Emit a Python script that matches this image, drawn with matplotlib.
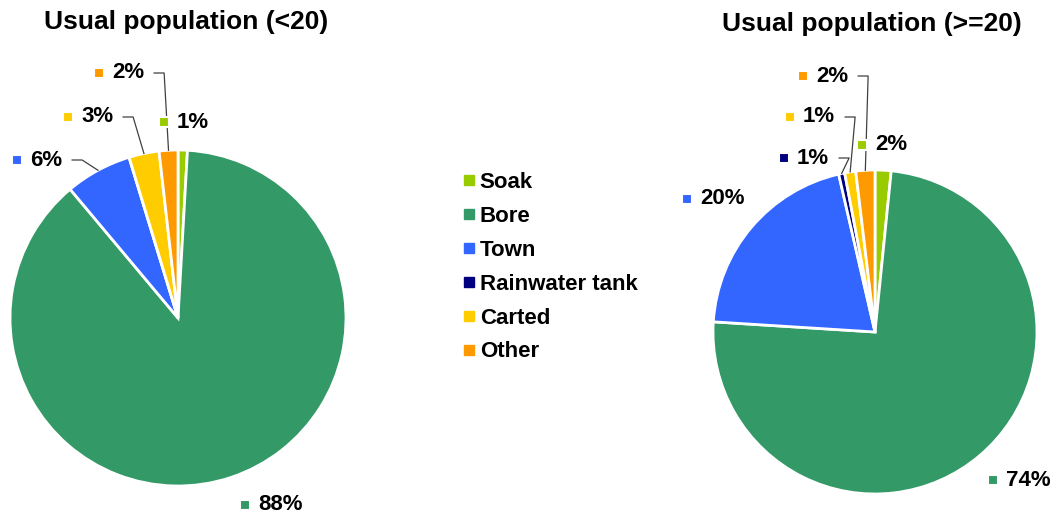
import numpy as np
import matplotlib
matplotlib.use("Agg")
import matplotlib.pyplot as plt
from matplotlib.lines import Line2D

categories = ["Soak", "Bore", "Town", "Rainwater tank", "Carted", "Other"]
under20 = [0.9, 88.0, 6.4, 0.0, 2.9, 1.8]
over20 = [1.6, 74.4, 20.4, 0.6, 1.1, 1.9]
titles = ["Usual population (<20)", "Usual population (>=20)"]
colors = ["#99CC00", "#339966", "#3366FF", "#000080", "#FFCC00", "#FF9900"]

# layout, in pixels (y down)
W, H = 1056, 515
centers = [(178, 318), (875, 332)]
radii = [168, 162]
title_pos = [(186, 22), (872, 24)]
# (marker x, marker y, leader line) per category
label_pos = [
    [(164, 122, False), (245, 505, False), (17, 160, True), None, (68, 117, True), (99, 73, True)],
    [(862, 145, False), (993, 480, False), (687, 199, False), (784, 158, True), (790, 117, True), (803, 76, True)],
]

plt.rcParams["font.family"] = ["Liberation Sans", "DejaVu Sans"]

fig = plt.figure(figsize=(10.56, 5.15), dpi=100)
ax = fig.add_axes([0, 0, 1, 1])

leaders = []
for i, vals in enumerate([under20, over20]):
    cx, cy = centers[i]
    r = radii[i]
    wedges, _ = ax.pie(vals, colors=colors, center=(cx, cy), radius=r,
                       startangle=-90, counterclock=True,
                       wedgeprops=dict(edgecolor="white", linewidth=2))
    ax.text(title_pos[i][0], title_pos[i][1], titles[i], ha="center", va="center",
            fontsize=19, fontweight="bold")
    for j, w in enumerate(wedges):
        pos = label_pos[i][j]
        if pos is None or vals[j] == 0:
            continue
        mx, my, leader = pos
        ax.plot(mx, my, marker="s", markersize=7.5, color=colors[j],
                markeredgecolor="white", markeredgewidth=1.5, zorder=5)
        t = ax.text(mx + 13, my, "%d%%" % int(vals[j] + 0.5), ha="left", va="center",
                    fontsize=16, fontweight="bold", zorder=4,
                    bbox=dict(facecolor="white", edgecolor="none", pad=0.5))
        if leader:
            leaders.append((t, w, (cx, cy), r, my))

ax.set_xlim(0, W)
ax.set_ylim(H, 0)
ax.axis("off")

# leader lines: short horizontal after the label, then to the slice edge
fig.canvas.draw()
inv = ax.transData.inverted()
for t, w, (cx, cy), r, my in leaders:
    bb = t.get_window_extent()
    xend = inv.transform((bb.x1, bb.y0))[0]
    ang = np.deg2rad((w.theta1 + w.theta2) / 2)
    ex, ey = cx + r * np.cos(ang), cy + r * np.sin(ang)
    ax.plot([xend + 10, xend + 20, ex], [my, my, ey], color="#404040", lw=0.9, zorder=2)

handles = [Line2D([], [], marker="s", linestyle="none", color=c, markersize=6.5) for c in colors]
ax.legend(handles, categories, loc="upper left", bbox_to_anchor=(463, 172),
          bbox_transform=ax.transData, frameon=False, borderpad=0, borderaxespad=0,
          handlelength=0.5, handletextpad=0.25, labelspacing=0.58,
          prop={"weight": "bold", "size": 16})

fig.savefig("out.png", dpi=100)
